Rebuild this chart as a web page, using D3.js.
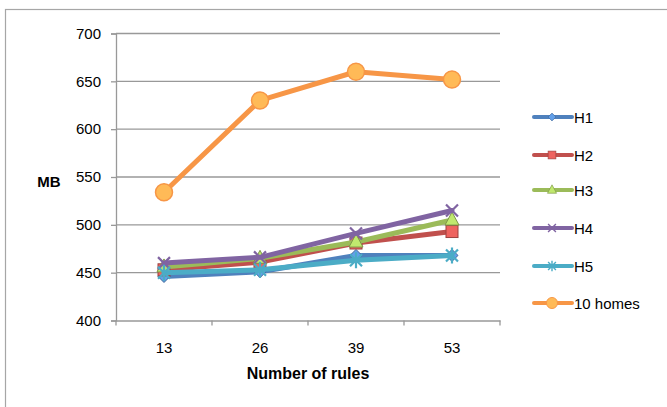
<!DOCTYPE html>
<html>
<head>
<meta charset="utf-8">
<script src="https://cdn.jsdelivr.net/npm/d3@7"></script>
<style>
  body { margin: 0; background: #fff; }
  text { font-family: "Liberation Sans", Arial, sans-serif; fill: #000; }
</style>
</head>
<body>
<script>
// data
const categories = ['13', '26', '39', '53']
const seriesNames = ['H1', 'H2', 'H3', 'H4', 'H5', '10 homes']
const h1 = [446, 451, 468, 468]
const h2 = [453, 461, 481, 493]
const h3 = [456, 465, 482, 505]
const h4 = [460, 466, 491, 515]
const h5 = [450, 453, 463, 468]
const homes10 = [534, 630, 660, 652]
const yTicks = [400, 450, 500, 550, 600, 650, 700]

const colors = ['#4F81BD', '#C0504D', '#9BBB59', '#8064A2', '#4BACC6', '#F79646']
const markers = ['diamond', 'square', 'triangle', 'x', 'star', 'circle']
const allValues = [h1, h2, h3, h4, h5, homes10]

const width = 667
const height = 407
const plot = { left: 116, right: 500, top: 33.5, bottom: 320.5 }

const svg = d3.select('body').append('svg')
  .attr('width', width)
  .attr('height', height)

// chart frame
svg.append('rect')
  .attr('x', 5.5).attr('y', 9.5)
  .attr('width', 700).attr('height', 450)
  .attr('fill', 'none')
  .attr('stroke', '#a6a6a6')
  .attr('stroke-width', 1.2)

const x = d3.scaleBand()
  .domain(categories)
  .range([plot.left, plot.right])

const y = d3.scaleLinear()
  .domain([400, 700])
  .range([plot.bottom, plot.top])

// gridlines
svg.append('g')
  .selectAll('line')
  .data(yTicks.slice(1))
  .join('line')
    .attr('x1', plot.left).attr('x2', plot.right)
    .attr('y1', d => y(d)).attr('y2', d => y(d))
    .attr('stroke', '#999')
    .attr('stroke-width', 1.3)

const yAxis = svg.append('g')
  .attr('transform', `translate(${plot.left},0)`)
  .call(d3.axisLeft(y).tickValues(yTicks).tickSize(5).tickPadding(10))
yAxis.select('.domain').attr('stroke', '#999').attr('stroke-width', 1.3)
yAxis.selectAll('.tick line').attr('stroke', '#999').attr('stroke-width', 1.3)
yAxis.selectAll('text').style('font-size', '15px')

// x axis ticks sit on band boundaries
const xAxis = svg.append('g')
  .attr('transform', `translate(0,${plot.bottom})`)
  .call(d3.axisBottom(x).tickSize(0).tickPadding(22))
xAxis.select('.domain').attr('stroke', '#999').attr('stroke-width', 1.3)
xAxis.selectAll('text').style('font-size', '15px')
const bounds = categories.map(c => x(c)).concat([x(categories[categories.length - 1]) + x.bandwidth()])
xAxis.selectAll('.bound')
  .data(bounds)
  .join('line')
    .attr('x1', d => d).attr('x2', d => d)
    .attr('y1', 0).attr('y2', 5)
    .attr('stroke', '#999')
    .attr('stroke-width', 1.3)

svg.append('text')
  .attr('x', 49).attr('y', 187)
  .attr('text-anchor', 'middle')
  .style('font-size', '15px')
  .style('font-weight', 'bold')
  .text('MB')

svg.append('text')
  .attr('x', (plot.left + plot.right) / 2).attr('y', 379)
  .attr('text-anchor', 'middle')
  .style('font-size', '16px')
  .style('font-weight', 'bold')
  .text('Number of rules')

function drawMarker(g, type, color) {
  const dark = d3.color(color).darker(0.6)
  const light = d3.color(color).brighter(0.6)
  if (type === 'diamond') {
    g.append('path').attr('d', 'M0,-6L6,0L0,6L-6,0Z')
      .attr('fill', light).attr('stroke', dark).attr('stroke-width', 1)
  } else if (type === 'square') {
    g.append('rect').attr('x', -6).attr('y', -6).attr('width', 12).attr('height', 12)
      .attr('fill', light).attr('stroke', dark).attr('stroke-width', 1)
  } else if (type === 'triangle') {
    g.append('path').attr('d', 'M0,-8L7,5L-7,5Z')
      .attr('fill', light).attr('stroke', dark).attr('stroke-width', 1)
  } else if (type === 'x') {
    g.append('path').attr('d', 'M-6,-6L6,6M6,-6L-6,6')
      .attr('stroke', color).attr('stroke-width', 2.2)
  } else if (type === 'star') {
    g.append('path').attr('d', 'M-6,-6L6,6M6,-6L-6,6M0,-8L0,8')
      .attr('stroke', color).attr('stroke-width', 2.2)
  } else {
    g.append('circle').attr('r', 8.5)
      .attr('fill', light).attr('stroke', color).attr('stroke-width', 1.5)
  }
}

const line = d3.line()
  .x((d, i) => x(categories[i]) + x.bandwidth() / 2)
  .y(d => y(d))

allValues.forEach((vals, s) => {
  const g = svg.append('g')
  g.append('path')
    .datum(vals)
    .attr('d', line)
    .attr('fill', 'none')
    .attr('stroke', colors[s])
    .attr('stroke-width', 5)
    .attr('stroke-linejoin', 'round')
    .attr('stroke-linecap', 'round')
  vals.forEach((v, i) => {
    const m = g.append('g')
      .attr('transform', `translate(${x(categories[i]) + x.bandwidth() / 2},${y(v)})`)
    drawMarker(m, markers[s], colors[s])
  })
})

// legend
const legendY = [117, 155, 190, 228, 266, 303]
seriesNames.forEach((name, s) => {
  const g = svg.append('g').attr('transform', `translate(0,${legendY[s]})`)
  g.append('line')
    .attr('x1', 534).attr('x2', 572)
    .attr('stroke', colors[s])
    .attr('stroke-width', 4)
    .attr('stroke-linecap', 'round')
  const m = g.append('g').attr('transform', 'translate(552,0) scale(0.65)')
  drawMarker(m, markers[s], colors[s])
  g.append('text')
    .attr('x', 574).attr('y', 5.5)
    .style('font-size', '15px')
    .text(name)
})
</script>
</body>
</html>
